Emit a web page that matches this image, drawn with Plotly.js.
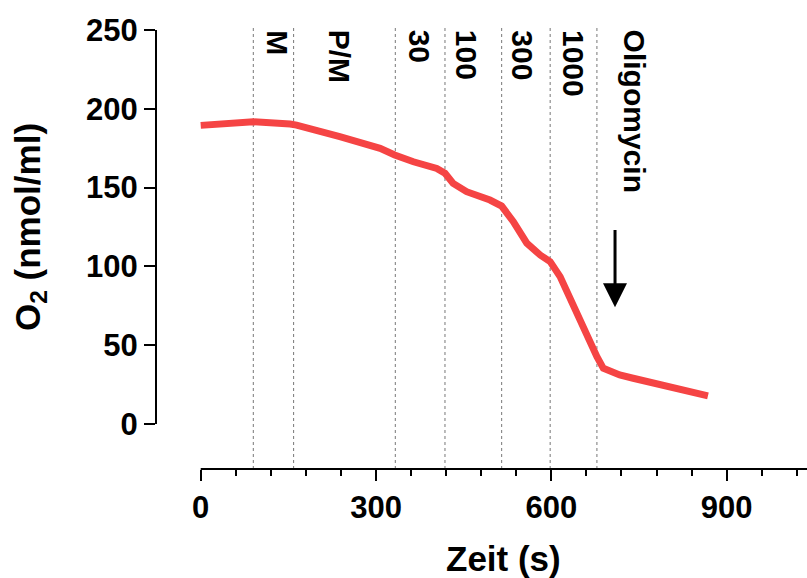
<!DOCTYPE html>
<html>
<head>
<meta charset="utf-8">
<script src="https://cdn.plot.ly/plotly-3.0.1.min.js"></script>
<style>html,body{margin:0;padding:0;background:#fff;}#chart{width:807px;height:578px;}</style>
</head>
<body>
<div id="chart"></div>
<script>
// Oxygen trace (time in s, O2 in nmol/ml)
const timeS = [0, 50, 90, 153, 164, 238, 307, 332, 364, 404, 418, 432, 455, 495, 515, 535, 558, 581, 598, 615, 638, 660, 678, 689, 717, 740, 797, 868];
const o2 = [189.5, 190.8, 191.8, 190.4, 189.7, 182.3, 174.9, 170.7, 166.4, 162.2, 159.1, 152.7, 147.4, 142.1, 138.3, 128.4, 114.7, 107.2, 103, 93.5, 74.4, 57.5, 42.7, 35.3, 31.1, 29, 23.7, 17.8];

// Additions (time of addition) and their labels
const additionTimes = [90, 159, 333, 418, 515, 598, 678];
const additionLabels = ["M", "P/M", "30", "100", "300", "1000", "Oligomycin"];
const labelTimes = [131, 238, 375, 456, 551, 638, 743];

// Tick labels
const xTicks = [0, 300, 600, 900];
const xMinor = [60, 120, 180, 240, 360, 420, 480, 540, 660, 720, 780, 840, 960, 1020];
const yTicks = [0, 50, 100, 150, 200, 250];

// Arrow (Oligomycin) in data units
const arrowX = 709, arrowFrom = 124, arrowTo = 74;

const FONT = "Liberation Sans, Arial, sans-serif";
const xRange = [-76.5, 1037.5];
const yRange = [-28.6, 251.3];

const shapes = [];
additionTimes.forEach(t => shapes.push({
  type: 'line', xref: 'x', yref: 'paper', x0: t, x1: t, y0: 0, y1: 1,
  line: {color: '#777', width: 1, dash: 'dot'}, layer: 'below'
}));
shapes.push({type: 'line', xref: 'paper', yref: 'y', x0: 0, x1: 0, y0: 0, y1: 250, line: {color: '#000', width: 2}});
shapes.push({type: 'line', xref: 'x', yref: 'paper', x0: 0, x1: xRange[1], y0: 0, y1: 0, line: {color: '#000', width: 2}});

const annotations = additionLabels.map((lab, i) => ({
  text: lab, x: labelTimes[i], xref: 'x', y: 1, yref: 'paper',
  xanchor: 'center', yanchor: 'top', textangle: 90, showarrow: false,
  font: {family: FONT, size: 30, color: '#000', weight: 'bold'}
}));
annotations.push({
  x: arrowX, y: arrowTo, xref: 'x', yref: 'y', ax: arrowX, ay: arrowFrom, axref: 'x', ayref: 'y',
  text: '', showarrow: true, arrowhead: 2, arrowsize: 1.6, arrowwidth: 3, arrowcolor: '#000'
});
// axis titles, centred on the drawn axis lines
annotations.push({
  text: 'Zeit (s)', x: xRange[1] / 2, xref: 'x', y: -0.204, yref: 'paper',
  xanchor: 'center', yanchor: 'middle', showarrow: false,
  font: {family: FONT, size: 35, color: '#000', weight: 'bold'}
});
annotations.push({
  text: 'O<sub>2</sub> (nmol/ml)', x: -0.1935, xref: 'paper', y: 125, yref: 'y',
  xanchor: 'center', yanchor: 'middle', textangle: -90, showarrow: false,
  font: {family: FONT, size: 35, color: '#000', weight: 'bold'}
});

const trace = {
  x: timeS, y: o2, type: 'scatter', mode: 'lines',
  line: {color: 'rgb(245,68,68)', width: 7}, hoverinfo: 'skip'
};

const layout = {
  width: 807, height: 578,
  margin: {l: 156, r: 0, t: 28, b: 109},
  paper_bgcolor: '#fff', plot_bgcolor: '#fff',
  showlegend: false,
  font: {family: FONT, color: '#000'},
  xaxis: {
    range: xRange, showgrid: false, zeroline: false, showline: false,
    tickmode: 'array', tickvals: xTicks, ticks: 'outside', ticklen: 11, tickwidth: 2, tickcolor: '#000',
    tickfont: {family: FONT, size: 31, weight: 'bold'},
    minor: {tickmode: 'array', tickvals: xMinor, ticks: 'outside', ticklen: 6, tickwidth: 2, tickcolor: '#000', showgrid: false}
  },
  yaxis: {
    range: yRange, showgrid: false, zeroline: false, showline: false,
    tickmode: 'array', tickvals: yTicks, ticks: 'outside', ticklen: 11, tickwidth: 2, tickcolor: '#000',
    tickfont: {family: FONT, size: 31, weight: 'bold'}
  },
  shapes: shapes,
  annotations: annotations
};

Plotly.newPlot('chart', [trace], layout, {displayModeBar: false, staticPlot: true});
</script>
</body>
</html>
